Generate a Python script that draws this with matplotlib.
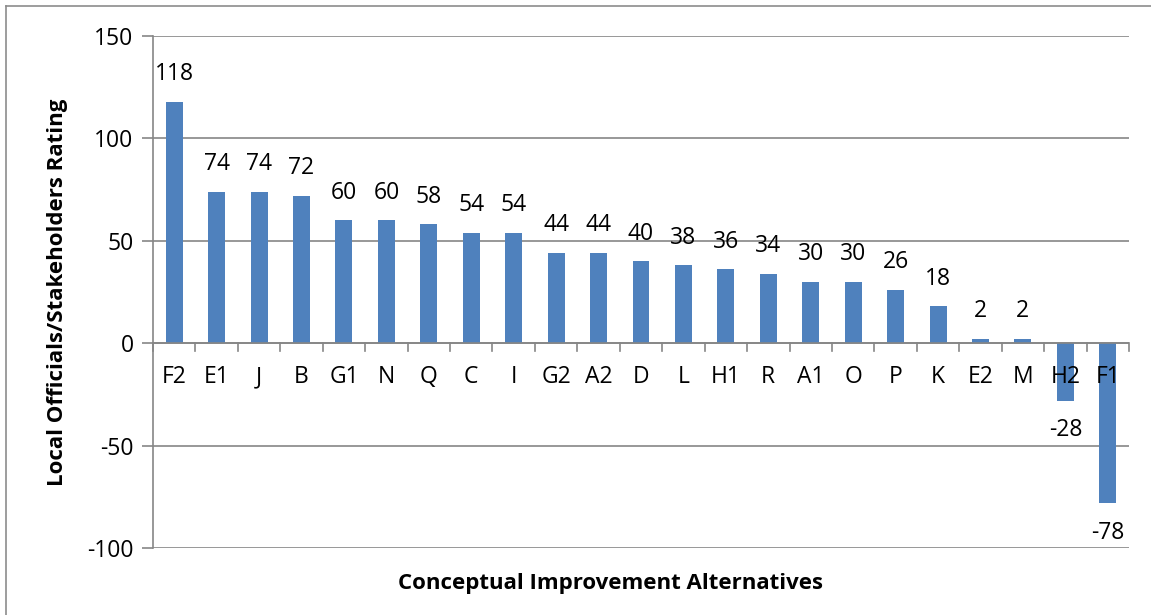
import matplotlib
matplotlib.use("Agg")
import matplotlib.pyplot as plt
from matplotlib.lines import Line2D

categories = ["F2", "E1", "J", "B", "G1", "N", "Q", "C", "I", "G2", "A2", "D",
              "L", "H1", "R", "A1", "O", "P", "K", "E2", "M", "H2", "F1"]
ratings = [118, 74, 74, 72, 60, 60, 58, 54, 54, 44, 44, 40,
           38, 36, 34, 30, 30, 26, 18, 2, 2, -28, -78]
yticks = [-100, -50, 0, 50, 100, 150]

plt.rcParams['font.family'] = ['Open Sans', 'DejaVu Sans']

W, H = 1151, 615
fig = plt.figure(figsize=(W / 100, H / 100), dpi=100)
ax = fig.add_axes([153 / W, 1 - 548 / H, (1129 - 153) / W, (548 - 36) / H])

FS = 16.5
bar_color = "#4F81BD"
grid_color = "#868686"
n = len(categories)
x = list(range(n))
ax.bar(x, ratings, width=0.4, color=bar_color, zorder=3)
ax.set_xlim(-0.5, n - 0.5)
ax.set_ylim(-100, 150)
ax.set_yticks(yticks)
ax.set_yticklabels([str(v) for v in yticks], fontsize=FS)
ax.yaxis.grid(True, color=grid_color, linewidth=1.2, zorder=0)
ax.tick_params(axis='y', length=8, width=1.2, color=grid_color, pad=6)

for s in ["top", "right", "bottom"]:
    ax.spines[s].set_visible(False)
ax.spines["left"].set_color(grid_color)
ax.spines["left"].set_linewidth(1.2)

# zero axis line with tick marks between categories
ax.axhline(0, color=grid_color, linewidth=1.2, zorder=4)
ax.set_xticks([])
for i in range(n + 1):
    ax.plot([i - 0.5, i - 0.5], [0, -3.6], color=grid_color, linewidth=1.2,
            zorder=4, clip_on=False)

# category labels below the zero line
for i, c in enumerate(categories):
    ax.text(i, -16.6, c, ha="center", va="center", fontsize=FS, zorder=5)

# value labels
for i, v in enumerate(ratings):
    if v >= 0:
        ax.text(i, v + 13.5, str(v), ha="center", va="center", fontsize=FS)
    else:
        ax.text(i, v - 14.5, str(v), ha="center", va="center", fontsize=FS)

ax.set_ylabel("Local Officials/Stakeholders Rating", fontsize=16,
              fontweight="bold", labelpad=14)
fig.text(610 / W, 1 - 583 / H, "Conceptual Improvement Alternatives",
         ha="center", va="center", fontsize=16, fontweight="bold")

# outer frame (top and left edges visible)
fig.add_artist(Line2D([6 / W, 1], [1 - 6 / H, 1 - 6 / H], color="#8c8c8c",
                      linewidth=1.2, transform=fig.transFigure))
fig.add_artist(Line2D([6 / W, 6 / W], [0, 1 - 6 / H], color="#8c8c8c",
                      linewidth=1.2, transform=fig.transFigure))

fig.savefig("out.png", dpi=100)
